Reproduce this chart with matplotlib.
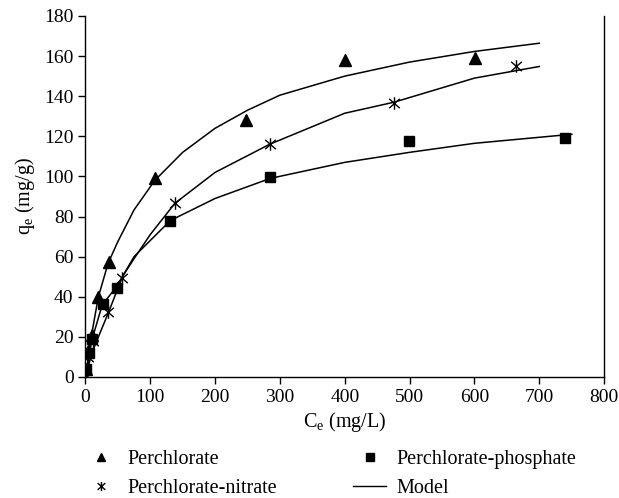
import matplotlib
matplotlib.use("Agg")
import matplotlib.pyplot as plt
from matplotlib.lines import Line2D
from matplotlib.path import Path

plt.rcParams['font.family'] = ['Liberation Serif', 'DejaVu Serif']
plt.rcParams['mathtext.fontset'] = 'custom'
plt.rcParams['mathtext.rm'] = 'Liberation Serif'
plt.rcParams['mathtext.it'] = 'Liberation Serif:italic'

# Experimental data
perc_x = [1.5, 4, 9.5, 20, 36, 107, 248, 400, 601]
perc_y = [4, 13, 21, 40, 57.5, 99, 128, 158, 159]
nitr_x = [1, 4, 11, 35, 56, 138, 284, 476, 664]
nitr_y = [0, 10, 18, 32.5, 49.5, 86.5, 116, 136.5, 155]
phos_x = [1, 5, 9.5, 26.5, 48, 131, 285, 499, 739]
phos_y = [4, 12, 19, 36.5, 44.5, 78, 99.5, 117.5, 119]

# Model curves
mperc_x = [0, 10, 20, 35, 50, 75, 107, 150, 200, 250, 300, 400, 500, 600, 700]
mperc_y = [0, 22, 40, 56.7, 67.5, 83.3, 98, 112, 124, 133, 140.5, 150, 157, 162.3, 166.4]
mnitr_x = [0, 10, 20, 36, 57, 75, 100, 138, 200, 284, 400, 476, 600, 700]
mnitr_y = [0, 12, 20, 32.5, 50, 59, 71, 86.6, 102, 116, 131.5, 137, 149, 154.8]
mphos_x = [0, 10, 26, 48, 75, 131, 200, 285, 400, 500, 600, 750]
mphos_y = [0, 18.5, 36, 45, 60, 78, 89, 99, 107, 112, 116.5, 121]

x_ticks = [0, 100, 200, 300, 400, 500, 600, 700, 800]
y_ticks = [0, 20, 40, 60, 80, 100, 120, 140, 160, 180]

# asterisk-like marker: X with a vertical bar
star_path = Path([(0, -1), (0, 1), (-0.85, -0.75), (0.85, 0.75), (-0.85, 0.75), (0.85, -0.75)],
                 [Path.MOVETO, Path.LINETO, Path.MOVETO, Path.LINETO, Path.MOVETO, Path.LINETO])

fig = plt.figure(figsize=(6.19, 4.98), dpi=100)
ax = fig.add_axes([0.138, 0.243, 0.838, 0.725])

lw = 1.1
ax.plot(mperc_x, mperc_y, color='black', lw=lw)
ax.plot(mnitr_x, mnitr_y, color='black', lw=lw)
ax.plot(mphos_x, mphos_y, color='black', lw=lw)

ax.plot(perc_x, perc_y, ls='none', marker='^', color='black', ms=8)
ax.plot(phos_x, phos_y, ls='none', marker='s', color='black', ms=7.5)
ax.plot(nitr_x, nitr_y, ls='none', marker=star_path, color='black', ms=9, mew=1.0)

ax.set_xlim(0, 800)
ax.set_ylim(0, 180)
ax.set_xticks(x_ticks)
ax.set_yticks(y_ticks)
ax.spines['top'].set_visible(False)
for s in ['left', 'bottom', 'right']:
    ax.spines[s].set_linewidth(1.0)
ax.tick_params(axis='both', labelsize=14, direction='out', length=5, width=1.0, colors='black')
ax.set_xlabel('C$_\\mathrm{e}$ (mg/L)', fontsize=14.5, labelpad=3)
ax.set_ylabel('q$_\\mathrm{e}$ (mg/g)', fontsize=14.5, labelpad=5)

handles = [
    Line2D([], [], ls='none', marker='^', color='black', ms=6),
    Line2D([], [], ls='none', marker=star_path, color='black', ms=6.5, mew=1.0),
    Line2D([], [], ls='none', marker='s', color='black', ms=6),
    Line2D([], [], color='black', lw=1.0),
]
labels = ['Perchlorate', 'Perchlorate-nitrate', 'Perchlorate-phosphate', 'Model']
fig.legend(handles, labels, ncol=2, loc='upper left', bbox_to_anchor=(0.1195, 0.117),
           frameon=False, fontsize=14.5, handlelength=1.64, handletextpad=0.5,
           columnspacing=3.8, labelspacing=0.5, borderpad=0)

fig.savefig('out.png', dpi=100)
